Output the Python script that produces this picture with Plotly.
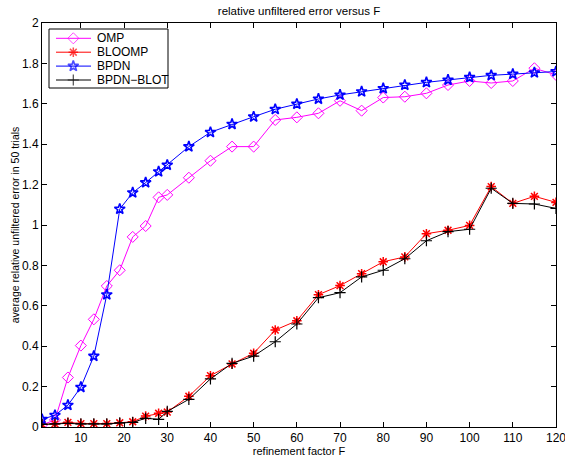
import plotly.graph_objects as go

# Data
refinement_F = [1, 4, 7, 10, 13, 16, 19, 22, 25, 28, 30, 35, 40, 45, 50, 55, 60,
                65, 70, 75, 80, 85, 90, 95, 100, 105, 110, 115, 120]
omp = [0.010, 0.035, 0.245, 0.403, 0.533, 0.698, 0.776, 0.941, 0.995, 1.137,
       1.149, 1.234, 1.318, 1.388, 1.388, 1.520, 1.533, 1.553, 1.615, 1.566,
       1.631, 1.635, 1.652, 1.693, 1.713, 1.703, 1.713, 1.776, 1.743]
bloomp = [0.013, 0.015, 0.023, 0.017, 0.017, 0.017, 0.021, 0.026, 0.054, 0.068,
          0.074, 0.152, 0.254, 0.312, 0.365, 0.480, 0.526, 0.655, 0.700, 0.759,
          0.818, 0.842, 0.957, 0.974, 0.998, 1.190, 1.107, 1.142, 1.112]
bpdn = [0.038, 0.058, 0.108, 0.197, 0.351, 0.655, 1.079, 1.160, 1.210, 1.264,
        1.297, 1.388, 1.459, 1.499, 1.536, 1.573, 1.599, 1.624, 1.644, 1.660,
        1.676, 1.693, 1.706, 1.718, 1.731, 1.741, 1.747, 1.754, 1.760]
bpdn_blot = [0.013, 0.015, 0.018, 0.015, 0.015, 0.015, 0.020, 0.023, 0.043, 0.038,
             0.077, 0.137, 0.238, 0.315, 0.351, 0.422, 0.510, 0.640, 0.665, 0.743,
             0.776, 0.833, 0.922, 0.967, 0.979, 1.182, 1.107, 1.104, 1.082]

series_names = ["OMP", "BLOOMP", "BPDN", "BPDN\u2212BLOT"]
series_values = [omp, bloomp, bpdn, bpdn_blot]
series_colors = ["#FF00FF", "#FF0000", "#0000FF", "#000000"]
series_symbols = ["diamond-open", "asterisk-open", "star-open", "cross-thin-open"]
series_sizes = [8.5, 8, 8, 8]
series_mlw = [1, 1.5, 1.6, 1.2]

x_ticks = [10, 20, 30, 40, 50, 60, 70, 80, 90, 100, 110, 120]
y_ticks = [0, 0.2, 0.4, 0.6, 0.8, 1, 1.2, 1.4, 1.6, 1.8, 2]
y_ticktext = ["0", "0.2", "0.4", "0.6", "0.8", "1", "1.2", "1.4", "1.6", "1.8", "2"]

FONT = "Liberation Sans, Arial, Helvetica, sans-serif"
W, H = 565, 460
L, R, T, B = 42, 9, 23, 33

fig = go.Figure()
for name, vals, col, sym, sz, mlw in zip(series_names, series_values, series_colors,
                                         series_symbols, series_sizes, series_mlw):
    fig.add_trace(go.Scatter(
        x=refinement_F, y=vals, name=name, mode="lines+markers", showlegend=False,
        line=dict(color=col, width=1),
        marker=dict(symbol=sym, size=sz, color=col, line=dict(color=col, width=mlw))))

# Hand-drawn legend (MATLAB-style compact box) on a pixel-unit overlay axis
box_x0, box_x1, box_y0, box_y1 = 49, 168, 29, 88
row_y0, row_step = 38.3, 13.9
for i, (name, col, sym, sz, mlw) in enumerate(zip(series_names, series_colors,
                                                  series_symbols, series_sizes, series_mlw)):
    yc = row_y0 + i * row_step
    fig.add_trace(go.Scatter(
        x=[56, 73.3, 91], y=[yc, yc, yc], mode="lines+markers", showlegend=False,
        xaxis="x2", yaxis="y2", hoverinfo="skip",
        line=dict(color=col, width=1),
        marker=dict(symbol=sym, size=[0, sz, 0], color=col, line=dict(color=col, width=mlw))))
    fig.add_annotation(x=95, y=yc, xref="x2", yref="y2", text=name, showarrow=False,
                       xanchor="left", yanchor="middle",
                       font=dict(size=12, color="black", family=FONT))
fig.add_shape(type="rect", x0=box_x0, x1=box_x1, y0=box_y0, y1=box_y1,
              xref="x2", yref="y2", line=dict(color="black", width=1),
              fillcolor="white", layer="below")

fig.update_layout(
    template="none",
    width=W, height=H,
    margin=dict(l=L, r=R, t=T, b=B, autoexpand=False),
    paper_bgcolor="white", plot_bgcolor="white",
    font=dict(family=FONT, size=11, color="black"),
    title=dict(text="relative unfiltered error versus F", x=0.5, xanchor="center",
               xref="paper", y=1 - 11 / H, yanchor="middle", yref="container",
               font=dict(size=11.5, color="black")),
    showlegend=False,
    xaxis=dict(range=[1, 120], tickvals=x_ticks, ticks="inside", ticklen=5,
               showline=True, linecolor="black", linewidth=1, mirror="ticks",
               tickcolor="black", automargin=False,
               showgrid=False, zeroline=False, tickfont=dict(size=12),
               ticklabeloverflow="allow",
               title=dict(text="refinement factor F", font=dict(size=11), standoff=1)),
    yaxis=dict(range=[0, 2], tickvals=y_ticks, ticktext=y_ticktext, ticks="inside",
               ticklen=5, showline=True, linecolor="black", linewidth=1, mirror="ticks",
               tickcolor="black", automargin=False,
               showgrid=False, zeroline=False, tickfont=dict(size=12),
               title=dict(text="average relative unfiltered error in 50 trials",
                          font=dict(size=10.5), standoff=0)),
    xaxis2=dict(range=[L, W - R], overlaying="x", visible=False, fixedrange=True,
                automargin=False),
    yaxis2=dict(range=[H - B, T], overlaying="y", visible=False, fixedrange=True,
                automargin=False),
)

fig.write_html("out.html")
